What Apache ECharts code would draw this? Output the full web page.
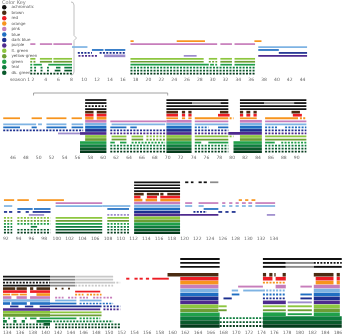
<!DOCTYPE html>
<html><head><meta charset="utf-8">
<script src="https://cdn.jsdelivr.net/npm/echarts/dist/echarts.min.js"></script>
<style>html,body{margin:0;padding:0;background:#fff}#c{width:350px;height:335px}</style>
</head><body><div id="c"></div>
<script>
// ---------- data ----------
const legendNames = ['achromatic','brown','red','orange','pink','blue','dark blue','purple','lt. green','yellow-green','green','teal','dk. green'];
const rowKeys = ['k1','k2','k3','k4','brown','red','orange','pink','ltblue','blue','dkblue','purple','ltgreen','ygreen','green','teal','dkgreen','dkgreen2'];
const panelRanges = [[0,45],[44,92],[92,134.4],[134,187]];
const firstLabel = 'season 1';
const bracketSpan = [49.2, 70];

// segments: [term, from, to, level]  level 1 = sparse, 2 = regular, 3 = strong
const panel1 = [
 ['orange',17.2,17.7,2],['orange',24.4,28.8,2],['orange',36.5,37.6,2],
 ['ltblue',8.1,10.5,2],['ltblue',37.1,44.7,2],
 ['blue',11.2,13,2],['blue',13.2,16.4,2],['blue',37.1,40.3,2],
 ['dkblue',9,11.2,1],['dkblue',12.4,16.4,1],['dkblue',40.3,44.7,2],
 ['purple',9.1,12,1],['lilac',13.1,16.4,3],['lilac',25.5,27.5,2],['purple',37.1,44.7,2],
 ['pink',1.6,2.4,2],['pink',3.1,5,2],['pink',5.2,8.1,2],['pink',17.2,30.7,2],['pink',31.2,33,2],['pink',33.4,36.6,2],
 ['ltgreen',1.6,2.4,2],['ltgreen',3.1,5,2],['ltgreen',5.2,8.1,2],['ltgreen',17.2,28.6,2],['ltgreen',29.4,30.7,2],['ltgreen',31.2,33,2],['ltgreen',33.4,36.6,2],
 ['ygreen',1.6,1.9,2],['ygreen',2.1,2.4,2],['ygreen',3.1,5,2],['ygreen',5.2,8.1,2],['ygreen',17.2,28.6,2],['ygreen',29.4,30.7,1],['ygreen',31.2,33,2],['ygreen',33.4,36.6,2],
 ['green',1.6,1.9,2],['green',2.1,3.4,2],['green',4.4,8.1,2],['green',17.2,29.4,2],['green',29.6,30.2,2],['green',30.4,30.7,2],['green',31.2,33,2],['green',33.4,36.6,2],
 ['teal',1.6,1.9,2],['teal',2.2,2.5,2],['teal',3.2,3.5,2],['teal',4.2,4.5,2],['teal',5.6,6.3,2],['teal',6.9,8.1,2],['teal',17.2,36.6,1],
 ['dkgreen',1.6,1.9,2],['dkgreen',2.2,2.5,2],['dkgreen',3.2,3.5,2],['dkgreen',4.2,4.5,2],['dkgreen',5.4,6.3,2],['dkgreen',6.9,8.1,2],['dkgreen',17.2,36.6,1],
 ['dkgreen2',1.6,8.1,1],['dkgreen2',17.2,36.6,1]
];
const panel2 = [
 ['k1',57.2,60.5,2],['k1',69.8,79.4,2],['k1',81.2,91.5,2],
 ['k2',57.2,60.5,2],['k2',69.8,73.8,2],['g2',73.8,78.2,2],['k2',78.2,79.4,2],['k2',81.2,85,2],['g2',85,89.6,2],['k2',89.6,91.5,2],
 ['k3',57.2,60.5,1],['k3',69.8,79.4,2],['k3',81.2,91.5,2],
 ['k4',57.2,60.5,2],['k4',69.8,79.4,2],['k4',81.2,91.5,2],
 ['brown',57.2,58.5,3],['brown',59,60.5,3],['brown',69.8,71.6,3],['brown',72.2,72.7,3],['brown',73.2,73.7,3],['brown',78.1,79.4,3],['brown',81.2,81.7,3],['brown',82.2,82.8,3],['brown',83.3,83.8,3],['brown',89.2,90.5,3],
 ['red',57.2,58.5,3],['red',59,60.5,3],['red',69.8,71.6,3],['red',72.2,72.7,3],['red',73.2,73.7,3],['red',77.8,79.6,3],['red',81.2,81.7,3],['red',82.2,82.8,3],['red',83.3,83.8,3],['red',89.4,90.8,3],
 ['orange',44.5,47.1,2],['orange',48.9,50.5,2],['orange',51.2,54.3,2],['orange',55.1,56.7,2],['orange',57.2,58.5,3],['orange',59,60.5,3],['orange',69.8,71.6,2],['orange',72.2,72.7,2],['orange',73.2,73.7,2],['orange',74.2,79.4,2],['orange',79.6,80.2,1],['orange',81.2,83.8,2],['orange',85.1,90.2,2],['orange',90.5,91.5,1],
 ['pink',57.2,60.5,3],['pink',61.1,69.8,2],['pink',69.8,73.7,3],['pink',74.2,79.4,2],['pink',81.2,84.6,3],['pink',85.1,91.5,2],
 ['ltblue',44.5,49.6,2],['ltblue',49.9,50.5,2],['ltblue',51.2,54.3,2],['ltblue',55.1,56.9,2],['ltblue',57.2,60.5,3],['ltblue',61.3,69.6,2],['ltblue',69.8,73.7,3],['ltblue',74.2,79.4,2],['ltblue',81.2,84.6,3],['ltblue',85.1,91.5,2],
 ['blue',44.5,47.1,2],['blue',48.9,49.7,2],['blue',51.2,54.3,2],['blue',55.1,56.9,2],['blue',57.2,60.5,3],['blue',61.1,63.6,2],['blue',64.2,65.2,2],['blue',69.8,73.7,3],['blue',74.2,76.3,1],['blue',77.8,79.4,2],['blue',81.2,84.6,3],['blue',85.1,87.1,1],['blue',88.2,91.5,1],
 ['dkblue',44.5,56.9,1],['dkblue',57.2,60.5,3],['dkblue',61.1,69.8,1],['dkblue',69.8,73.7,3],['dkblue',74.2,79.4,1],['dkblue',81.2,84.6,3],['dkblue',85.1,91.5,1],
 ['lilac',53,56.4,2],['purple',56.4,60.5,3],['purple',61.1,69.8,1],['purple',69.8,73.7,3],['purple',74.2,79.4,1],['purple',79.4,84.6,3],['purple',85.1,91.5,1],
 ['ltgreen',57.2,60.5,3],['ltgreen',61.3,63.6,2],['ltgreen',64.4,66.2,2],['ltgreen',66.7,69.6,1],['ltgreen',69.8,73.7,3],['ltgreen',74.2,79.4,2],['ltgreen',79.6,80.2,1],['ltgreen',81.2,84.6,3],['ltgreen',85.1,91.5,2],
 ['ygreen',57.2,60.5,3],['ygreen',61.3,63.6,2],['ygreen',64.4,66.2,2],['ygreen',66.7,69.6,1],['ygreen',69.8,73.7,3],['ygreen',74.2,79.4,2],['ygreen',81.2,84.6,3],['ygreen',85.1,91.5,2],
 ['green',56.4,60.5,3],['green',61.1,61.8,2],['green',62.6,63.6,2],['green',64.4,69.6,1],['green',69.8,73.7,3],['green',74.2,75.2,2],['green',76.3,79.4,2],['green',80.2,84.6,3],['green',85.1,86.6,2],['green',87.6,91.5,1],
 ['teal',56.4,60.5,3],['teal',61.1,69.8,1],['teal',69.8,73.7,3],['teal',74.2,79.4,1],['teal',80.2,84.6,3],['teal',85.1,91.5,1],
 ['dkgreen',56.4,60.5,3],['dkgreen',61.1,69.8,1],['dkgreen',69.8,73.7,3],['dkgreen',74.2,79.4,1],['dkgreen',80.2,84.6,3],['dkgreen',85.1,91.5,1],
 ['dkgreen2',56.4,60.5,3],['dkgreen2',61.1,69.8,1],['dkgreen2',69.8,73.7,3],['dkgreen2',74.2,79.4,1],['dkgreen2',80.2,84.6,3],['dkgreen2',85.1,91.5,1]
];
const panel3 = [
 ['k1',112.1,119.3,2],['k1',120.1,120.6,2],['k1',121,121.4,2],['k1',122.2,122.7,2],['k1',123,123.5,2],['g1',124,125.3,2],
 ['k2',112.1,119.3,2],['k3',112.1,119.3,2],['k4',112.1,119.3,2],
 ['brown',112.1,113.6,3],['brown',114.1,116,3],['brown',116.2,116.7,3],['brown',117.3,119.3,3],
 ['red',112.1,113.1,3],['red',114.1,115.7,3],['red',116.2,119.3,3],
 ['orange',91.7,93.3,2],['orange',93.8,95.6,2],['orange',96.9,101.1,2],['orange',112.1,113.4,3],['orange',113.9,115.7,3],['orange',116.2,119.3,3],['orange',128.5,129,2],['orange',129.5,130,2],['orange',130.5,131.1,2],
 ['pink',99.8,107.1,2],['pink',112.1,119.3,3],['pink',120.1,121.2,2],['pink',122.2,125.3,2],['pink',125.9,126.4,2],['pink',127,127.5,2],['pink',128,128.5,2],['pink',129,129.6,2],['pink',130,130.6,2],['pink',131.1,134.2,2],
 ['ltblue',91.7,93,2],['ltblue',99.8,107.1,2],['ltblue',107.1,111.5,2],['ltblue',112.1,119.3,3],['ltblue',120.1,121.2,2],['ltblue',122.2,123,2],['ltblue',125.9,126.4,2],['ltblue',127,127.5,2],['ltblue',128,128.5,2],['ltblue',129,129.6,2],['ltblue',130,130.6,2],['ltblue',131.1,134.2,2],
 ['blue',93.8,96.2,2],['blue',96.4,99,2],['blue',107.9,111.3,2],['blue',112.1,119.3,3],['blue',123,125.3,2],
 ['dkblue',91.7,92.2,2],['dkblue',92.5,93,2],['dkblue',93.8,94.3,2],['dkblue',95.1,95.6,2],['dkblue',96.2,99,2],['dkblue',112.1,119.3,3],['dkblue',121.4,123.5,1],['dkblue',125.3,125.9,2],['dkblue',126.4,126.9,2],['dkblue',127.4,128,2],
 ['lilac',95.6,98,2],['lilac',107.9,111.3,1],['purple',112.1,119.3,3],['purple',119.3,125.3,2],['lilac',132.9,134.2,2],
 ['ltgreen',91.7,93,1],['ltgreen',93.8,99,1],['ltgreen',99.8,107.1,2],['ltgreen',107.9,111.3,2],['ltgreen',112.1,119.3,3],
 ['ygreen',91.7,93,1],['ygreen',93.8,99,1],['ygreen',99.8,107.1,2],['ygreen',107.9,111.3,2],['ygreen',112.1,119.3,3],
 ['green',91.7,93,1],['green',93.8,99,1],['green',99.8,107.1,2],['green',107.9,111.3,1],['green',112.1,119.3,3],
 ['teal',91.7,93,1],['teal',95.9,96.9,2],['teal',99.8,107.1,2],['teal',107.9,111.3,1],['teal',112.1,119.3,3],
 ['dkgreen',91.7,93,1],['dkgreen',93.8,99,1],['dkgreen',99.8,107.1,2],['dkgreen',107.9,111.3,1],['dkgreen',112.1,119.3,3],
 ['dkgreen2',91.7,93,1],['dkgreen2',93.8,99,1],['dkgreen2',99.8,107.1,2],['dkgreen2',107.9,111.3,1],['dkgreen2',112.1,119.3,3]
];
// panel 4, first group (sparser stack, sits lower)
const panel4a = [
 ['k1',134,141.3,2],['g1',141.3,145.2,2],['s1',145.2,151.1,2],
 ['k2',134,141.3,2],['g2',141.3,145.2,2],['s2',145.2,151.1,2],
 ['k3',134,141.3,1],['g3',141.3,145.2,2],['s3',145.2,151.1,2],['s3',151.1,152.2,1],
 ['k4',134,141.3,2],['g4',141.3,145.2,2],['s4',145.2,151.1,1],
 ['brown',134,135.9,3],['brown',136.1,137.7,3],['brown',138.2,138.7,3],['brown',139.2,141.3,3],['brown',142.1,142.4,2],['brown',143.1,143.4,2],['brown',144.1,144.4,2],
 ['red',134,137.7,3],['red',138.2,141.3,3],['red',145.2,149.1,2],
 ['orange',134,135.1,2],['orange',135.3,136.4,2],['orange',136.6,137.7,2],['orange',139.2,141.3,3],['orange',145.2,146.5,1],['orange',147,149.3,1],
 ['pink',134,135.3,3],['pink',136.1,137.7,3],['pink',138.2,141.3,3],['pink',142.1,143.4,1],['pink',144.1,145.4,1],['pink',145.9,147.2,1],['pink',148,149.3,1],['pink',149.6,151.1,1],
 ['ltblue',134,141.3,3],['ltblue',142.1,145.4,2],['ltblue',145.9,149.3,2],
 ['blue',134,135.1,3],['blue',135.3,137.7,3],['blue',138.2,141.3,3],['blue',141.3,145.4,2],['blue',145.9,151.1,1],
 ['dkblue',135.1,136.4,2],['dkblue',137.4,138.7,2],['dkblue',139.7,141.3,2],['dkblue',141.3,149.3,2],['dkblue',149.6,152.2,1],
 ['purple',134,141.3,3],['purple',141.3,149.1,2],['purple',149.6,152.2,1],
 ['ltgreen',134,141.3,3],['ltgreen',141.3,149.3,2],
 ['ygreen',134,141.3,3],['ygreen',141.3,149.3,2],
 ['green',134,134.3,2],['green',134.8,135.1,2],['green',135.6,135.9,2],['green',137.4,137.7,2],['green',138.2,139.2,2],['green',139.7,141.3,2],['green',141.3,145.4,2],['green',145.9,149.1,1],
 ['teal',134,134.6,3],['teal',135.6,136.1,3],['teal',136.9,137.4,3],['teal',139.2,141.3,3],['teal',141.3,151.1,1],
 ['dkgreen',134,140.3,1],['dkgreen',140.3,141.3,3],['dkgreen',142.1,152.2,1],
 ['dkgreen2',134,141.3,1],['dkgreen2',142.1,152.2,1]
];
// panel 4, rest
const panel4b = [
 ['k1',161.2,167.4,2],['k1',174.2,186.6,2],
 ['k2',161.2,167.4,2],['k2',174.2,177.8,2],['g2',177.8,182.2,2],['k2',182.2,186.6,1],
 ['k3',161.2,167.4,2],['k3',174.2,177.8,2],['g3',177.8,182.2,2],['k3',182.2,186.6,2],
 ['brown',159.2,167.2,3],['brown',174.2,174.7,3],['brown',175.2,175.7,3],['brown',176,176.2,3],['brown',177.3,177.8,3],['brown',182.2,185.3,3],['brown',185.8,186.3,3],
 ['red',152.7,153.2,2],['red',154,154.5,2],['red',154.8,155.3,2],['red',155.8,156.3,2],['red',156.8,159.4,2],['red',161.2,167.2,3],['red',174.2,175.7,3],['red',176.2,177.8,3],['red',182.5,185.3,3],['red',185.8,186.3,3],
 ['orange',161.2,167.2,3],['orange',174.2,177.8,1],['orange',182.5,185.3,3],['orange',185.8,186.3,3],
 ['pink',161.2,167.2,3],['pink',170.3,174.2,2],['pink',176.2,177.8,3],['pink',180.1,181.9,2],['pink',182.2,186.3,3],
 ['ltblue',161.2,167.2,3],['ltblue',169.3,170.3,2],['ltblue',171.1,174.2,2],['ltblue',174.2,177.8,1],['ltblue',182.2,186.3,3],
 ['blue',161.2,167.2,3],['blue',169.3,170.5,2],['blue',174.2,177.8,1],['blue',180.1,181.9,2],['blue',182.2,186.3,3],
 ['dkblue',161.2,167.2,3],['dkblue',168,169.3,2],['dkblue',174.2,177.8,1],['dkblue',180.1,181.9,2],['dkblue',182.2,186.3,3],
 ['purple',161.2,167.2,3],['purple',174.2,177.8,3],['lilac',178.1,181.9,2],['purple',182.2,186.3,3],
 ['ltgreen',161.2,167.2,3],['ltgreen',167.2,168.5,2],['ltgreen',174.2,177.8,2],['ltgreen',178.1,181.9,2],['ltgreen',182.2,186.3,3],
 ['ygreen',161.2,167.2,3],['ygreen',167.2,168.5,2],['ygreen',174.2,177.8,2],['ygreen',178.1,181.9,2],['ygreen',182.2,186.3,3],
 ['green',161.2,167.4,3],['green',174.2,177.8,3],['green',178.1,181.9,2],['green',182.2,186.3,3],
 ['teal',161.2,167.4,3],['teal',167.4,174.2,1],['teal',174.2,186.6,3],
 ['dkgreen',161.2,167.4,3],['dkgreen',167.4,174.2,1],['dkgreen',174.2,186.6,3],
 ['dkgreen2',161.2,167.4,3],['dkgreen2',167.4,174.2,1],['dkgreen2',174.2,186.6,3]
];

// ---------- styling / mapping ----------
const termColor = {
 k:'#111111', g:'#8a8a8a', s:'#c8c8c8', brown:'#4b2c12', red:'#ed1c24', orange:'#f7941d', pink:'#c77dbb',
 ltblue:'#7eb3e3', blue:'#1f6ec2', dkblue:'#1c2f8f', purple:'#4e2a8e', lilac:'#9d8ccc',
 ltgreen:'#8dc63f', ygreen:'#6c9e34', green:'#1fa049', teal:'#0d7d3d', dkgreen:'#0a5a2c', dkgreen2:'#053b1c'
};
const legendColors = ['#111111','#4b2c12','#ed1c24','#f7941d','#c77dbb','#1f6ec2','#1c2f8f','#4e2a8e','#8dc63f','#6c9e34','#1fa049','#0d7d3d','#0a5a2c'];
const termGroup = {k:0,g:0,s:0,brown:1,red:2,orange:3,pink:4,ltblue:5,blue:5,dkblue:6,purple:7,lilac:7,ltgreen:8,ygreen:9,green:10,teal:11,dkgreen:12,dkgreen2:12};
function base(t){ return /^[kgs]\d$/.test(t) ? t[0] : t; }
function rowOf(t){
 if (/^[kgs]\d$/.test(t)) return rowKeys.indexOf('k'+t[1]);
 if (t === 'lilac') return rowKeys.indexOf('purple');
 return rowKeys.indexOf(t);
}

// grid 4 is an overlay of panel 4 for its lower-lying first group
const grids = [
 {left:20, width:289, top:22, height:53},
 {left:0, width:309.6, top:98.5, height:54.7},
 {left:5, width:271.4, top:180.8, height:53.4},
 {left:3, width:341.3, top:257, height:72},
 {left:3, width:341.3, top:275.2, height:53.6}
];

function makeRender(terms){
 return function(params, api){
  const t = terms[params.dataIndex];
  const s = api.value(0), e = api.value(1), r = api.value(2), lvl = api.value(3);
  const a = api.coord([s, r]), b = api.coord([e, r]);
  const band = api.size([0,1])[1];
  const col = termColor[base(t)];
  if (lvl === 1) {
   return {type:'line', shape:{x1:a[0], y1:a[1], x2:b[0], y2:b[1]},
     style:{stroke:col, lineWidth:Math.min(band*0.58, 1.9), lineDash:[2,1.3]}};
  }
  const h = lvl === 3 ? band - 0.35 : Math.min(band*0.58, 1.9);
  return {type:'rect', shape:{x:a[0], y:a[1]-h/2, width:Math.max(b[0]-a[0],1), height:h}, style:{fill:col}};
 };
}

const panels = [panel1, panel2, panel3, panel4b, panel4a];
const series = [];
panels.forEach((segs, p) => {
 legendNames.forEach((name, gi) => {
  const sub = segs.filter(s => termGroup[base(s[0])] === gi);
  const terms = sub.map(s => s[0]);
  series.push({
   type:'custom', name, xAxisIndex:p, yAxisIndex:p, silent:true,
   itemStyle:{color:legendColors[gi]},
   renderItem: makeRender(terms),
   data: sub.map(s => [s[1], s[2], rowOf(s[0]), s[3]])
  });
 });
});
// bracket over part of panel 2
series.push({
 type:'custom', xAxisIndex:1, yAxisIndex:1, silent:true,
 renderItem: function(params, api){
  const a = api.coord([api.value(0), 0]), b = api.coord([api.value(1), 0]);
  const y = params.coordSys.y - 5.5;
  return {type:'polyline', shape:{points:[[a[0],y+2.5],[a[0],y],[b[0],y],[b[0],y+2.5]]}, style:{stroke:'#8c8c8c', lineWidth:0.8, fill:null}};
 },
 data:[bracketSpan]
});

const axisRanges = panelRanges.concat([panelRanges[3]]);
const xAxes = axisRanges.map((rg, i) => ({
 type:'value', gridIndex:i, min:rg[0], max:rg[1], interval:2, show: i < 4,
 splitLine:{show:false},
 axisLine:{lineStyle:{color:'#aaaaaa', width:0.8}},
 axisTick:{length:2, lineStyle:{color:'#aaaaaa', width:0.6}},
 axisLabel:{fontSize:4.5, color:'#666', margin:2, fontFamily:'DejaVu Sans',
   showMaxLabel:false, showMinLabel: i !== 1,
   formatter: v => (i === 0 && v === 0) ? firstLabel : String(v)}
}));
const yAxes = axisRanges.map((rg, i) => ({
 type:'category', gridIndex:i, data:rowKeys, inverse:true, show:false
}));

const chart = echarts.init(document.getElementById('c'), null, {renderer:'canvas'});
chart.setOption({
 animation:false,
 backgroundColor:'#fff',
 title:{text:'Color Key', left:2, top:0, padding:0, textStyle:{fontSize:5, color:'#777', fontWeight:'normal', fontFamily:'DejaVu Sans'}},
 legend:{data:legendNames, orient:'vertical', left:2, top:5, padding:0, itemWidth:4.5, itemHeight:4.5, itemGap:0.95,
   icon:'circle', selectedMode:false, textStyle:{fontSize:4, color:'#555', fontFamily:'DejaVu Sans'}},
 graphic:[{type:'polyline', silent:true,
   shape:{points:[[71,2],[73,2.5],[74,5],[74,35.5],[76.5,38],[74,40.5],[74,72],[73,74.5],[71,75]]},
   style:{stroke:'#b0b0b0', lineWidth:0.8, fill:null}}],
 grid: grids,
 xAxis: xAxes,
 yAxis: yAxes,
 series
});
</script></body></html>
